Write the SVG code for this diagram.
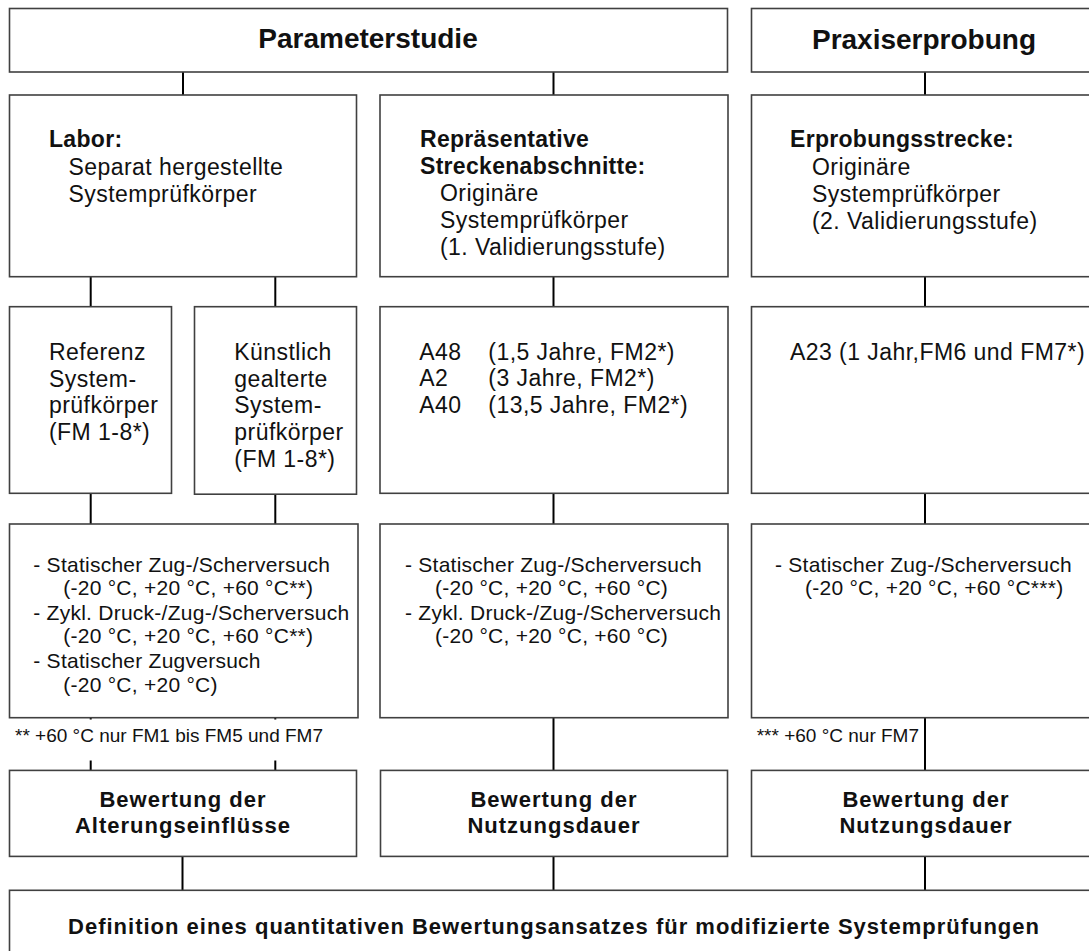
<svg xmlns="http://www.w3.org/2000/svg" width="1089" height="951" viewBox="0 0 1089 951">
<style>
.box{fill:#fff;stroke:#404040;stroke-width:1.6}
.con{stroke:#000;stroke-width:2;fill:none}
text{font-family:"Liberation Sans",Arial,sans-serif;fill:#111}
.h1{font-size:28px;font-weight:bold;text-anchor:middle}
.hb{font-size:23px;font-weight:bold;letter-spacing:0.3px}
.t{font-size:23px;letter-spacing:0.45px}
.s{font-size:21px;letter-spacing:0.25px}
.b{font-size:22px;font-weight:bold;letter-spacing:1px;text-anchor:middle}
.fn{font-size:19px}
</style>
<rect width="1089" height="951" fill="#fff"/>
<g id="connectors">
<line class="con" x1="183" y1="72" x2="183" y2="95"/>
<line class="con" x1="553.5" y1="72" x2="553.5" y2="95"/>
<line class="con" x1="925" y1="72" x2="925" y2="95"/>
<line class="con" x1="90.7" y1="276.7" x2="90.7" y2="306.7"/>
<line class="con" x1="275.3" y1="276.7" x2="275.3" y2="306.7"/>
<line class="con" x1="553.5" y1="276.7" x2="553.5" y2="306.7"/>
<line class="con" x1="925" y1="276.7" x2="925" y2="306.7"/>
<line class="con" x1="90.7" y1="493.3" x2="90.7" y2="524"/>
<line class="con" x1="275.3" y1="494.2" x2="275.3" y2="524"/>
<line class="con" x1="553.5" y1="493.3" x2="553.5" y2="524"/>
<line class="con" x1="925" y1="493.3" x2="925" y2="524"/>
<line class="con" x1="90.7" y1="717.7" x2="90.7" y2="770.4"/>
<line class="con" x1="275.3" y1="717.7" x2="275.3" y2="770.4"/>
<line class="con" x1="553.5" y1="717.7" x2="553.5" y2="770.4"/>
<line class="con" x1="925" y1="717.7" x2="925" y2="770.4"/>
<line class="con" x1="182.5" y1="856.4" x2="182.5" y2="890.3"/>
<line class="con" x1="553.5" y1="856.4" x2="553.5" y2="890.3"/>
<line class="con" x1="925" y1="856.4" x2="925" y2="890.3"/>
</g>
<g id="parameterstudie">
<rect class="box" x="9.5" y="8.5" width="718" height="63.5"/>
<text class="h1" x="368" y="48">Parameterstudie</text>
</g>
<g id="praxiserprobung">
<rect class="box" x="751.5" y="8.5" width="346" height="63.5"/>
<text class="h1" x="924" y="49">Praxiserprobung</text>
</g>
<g id="labor">
<rect class="box" x="9.5" y="95" width="347" height="181.7"/>
<text class="hb" x="49" y="147">Labor:</text>
<text class="t" x="68.5" y="174.5">Separat hergestellte</text>
<text class="t" x="68.5" y="201.5">Systemprüfkörper</text>
</g>
<g id="streckenabschnitte">
<rect class="box" x="380" y="95" width="348" height="181.7"/>
<text class="hb" x="420" y="147">Repräsentative</text>
<text class="hb" x="420" y="173.5">Streckenabschnitte:</text>
<text class="t" x="440" y="201">Originäre</text>
<text class="t" x="440" y="228">Systemprüfkörper</text>
<text class="t" x="440" y="255">(1. Validierungsstufe)</text>
</g>
<g id="erprobungsstrecke">
<rect class="box" x="751.5" y="95" width="346" height="181.7"/>
<text class="hb" x="790" y="147">Erprobungsstrecke:</text>
<text class="t" x="812" y="174.5">Originäre</text>
<text class="t" x="812" y="201.5">Systemprüfkörper</text>
<text class="t" x="812" y="228.5">(2. Validierungsstufe)</text>
</g>
<g id="referenz">
<rect class="box" x="9.5" y="306.7" width="162" height="186.6"/>
<text class="t" x="49" y="359.5">Referenz</text>
<text class="t" x="49" y="386.5">System-</text>
<text class="t" x="49" y="413.3">prüfkörper</text>
<text class="t" x="49" y="440">(FM 1-8*)</text>
</g>
<g id="kuenstlich">
<rect class="box" x="194.5" y="306.7" width="162" height="187.5"/>
<text class="t" x="234.3" y="359.5">Künstlich</text>
<text class="t" x="234.3" y="386.5">gealterte</text>
<text class="t" x="234.3" y="413.3">System-</text>
<text class="t" x="234.3" y="440">prüfkörper</text>
<text class="t" x="234.3" y="466.7">(FM 1-8*)</text>
</g>
<g id="abschnitte">
<rect class="box" x="380" y="306.7" width="348" height="186.6"/>
<text class="t" x="419.3" y="359.5">A48</text>
<text class="t" x="488.3" y="359.5">(1,5 Jahre, FM2*)</text>
<text class="t" x="419.3" y="386.3">A2</text>
<text class="t" x="488.3" y="386.3">(3 Jahre, FM2*)</text>
<text class="t" x="419.3" y="412.8">A40</text>
<text class="t" x="488.3" y="412.8">(13,5 Jahre, FM2*)</text>
</g>
<g id="a23">
<rect class="box" x="751.5" y="306.7" width="346" height="186.6"/>
<text class="t" x="790" y="359.5">A23 (1 Jahr,FM6 und FM7*)</text>
</g>
<g id="versuche-labor">
<rect class="box" x="9.5" y="524" width="348.5" height="193.7"/>
<text class="s" x="33.3" y="571.7">- Statischer Zug-/Scherversuch</text>
<text class="s" x="63.3" y="595">(-20 °C, +20 °C, +60 °C**)</text>
<text class="s" x="33.3" y="620">- Zykl. Druck-/Zug-/Scherversuch</text>
<text class="s" x="63.3" y="643.3">(-20 °C, +20 °C, +60 °C**)</text>
<text class="s" x="33.3" y="668.3">- Statischer Zugversuch</text>
<text class="s" x="63.3" y="691.7">(-20 °C, +20 °C)</text>
</g>
<g id="versuche-strecke">
<rect class="box" x="380" y="524" width="348" height="193.7"/>
<text class="s" x="405" y="571.7">- Statischer Zug-/Scherversuch</text>
<text class="s" x="435" y="595">(-20 °C, +20 °C, +60 °C)</text>
<text class="s" x="405" y="620">- Zykl. Druck-/Zug-/Scherversuch</text>
<text class="s" x="435" y="643.3">(-20 °C, +20 °C, +60 °C)</text>
</g>
<g id="versuche-praxis">
<rect class="box" x="751.5" y="524" width="346" height="193.7"/>
<text class="s" x="775" y="571.7">- Statischer Zug-/Scherversuch</text>
<text class="s" x="805" y="595">(-20 °C, +20 °C, +60 °C***)</text>
</g>
<g id="fussnote-labor">
<rect x="12" y="719.5" width="330" height="41" fill="#fff"/>
<text class="fn" x="15" y="742">** +60 °C nur FM1 bis FM5 und FM7</text>
</g>
<g id="fussnote-praxis">
<text class="fn" x="756.7" y="742">*** +60 °C nur FM7</text>
</g>
<g id="bewertung-alterung">
<rect class="box" x="9.5" y="770.4" width="347" height="86"/>
<text class="b" x="183" y="807">Bewertung der</text>
<text class="b" x="183" y="833">Alterungseinflüsse</text>
</g>
<g id="bewertung-nutzung-1">
<rect class="box" x="380.5" y="770.4" width="347" height="86"/>
<text class="b" x="554" y="807">Bewertung der</text>
<text class="b" x="554" y="833">Nutzungsdauer</text>
</g>
<g id="bewertung-nutzung-2">
<rect class="box" x="751.5" y="770.4" width="346" height="86"/>
<text class="b" x="926" y="807">Bewertung der</text>
<text class="b" x="926" y="833">Nutzungsdauer</text>
</g>
<g id="definition">
<rect class="box" x="9.5" y="890.3" width="1088" height="80"/>
<text class="b" x="554" y="934">Definition eines quantitativen Bewertungsansatzes für modifizierte Systemprüfungen</text>
</g>
</svg>
